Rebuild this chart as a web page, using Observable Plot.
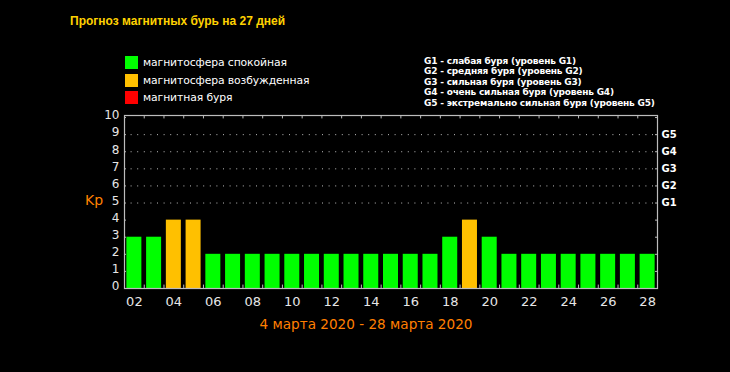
<!DOCTYPE html>
<html><head><meta charset="utf-8">
<script src="https://cdn.jsdelivr.net/npm/d3@7"></script>
<script src="https://cdn.jsdelivr.net/npm/@observablehq/plot@0.6"></script>
<style>
html,body{margin:0;padding:0;background:#000;}
#wrap{position:relative;width:730px;height:372px;background:#000;overflow:hidden;font-family:"DejaVu Sans",sans-serif;}
#wrap svg{position:absolute;left:0;top:0;}
.abs{position:absolute;white-space:nowrap;}
#title{left:70px;top:14px;font:bold 12px "Liberation Sans",Arial,sans-serif;color:#ffd200;}
.lg{position:absolute;left:125px;height:13px;display:flex;align-items:center;}
.lg span.sw{display:inline-block;width:13px;height:13px;margin-right:5px;}
.lg span.tx{font-size:10.8px;letter-spacing:-0.1px;color:#fff;}
#glegend{left:424px;top:55.5px;font-weight:bold;font-size:9px;letter-spacing:-0.2px;line-height:10.5px;color:#fff;}
#kp{left:85px;top:192px;font-size:14px;color:#ff8000;}
#caption{left:0;width:732px;text-align:center;top:316px;font-size:13.6px;color:#ff7f00;}
</style></head>
<body>
<div id="wrap"></div>
<script>
// ---- data ----
const days = [2,3,4,5,6,7,8,9,10,11,12,13,14,15,16,17,18,19,20,21,22,23,24,25,26,27,28];
const kpValues = [3,3,4,4,2,2,2,2,2,2,2,2,2,2,2,2,3,4,3,2,2,2,2,2,2,2,2];
const xTickLabels = ["02","04","06","08","10","12","14","16","18","20","22","24","26","28"];
const yTickLabels = ["0","1","2","3","4","5","6","7","8","9","10"];
const gLevels = [5,6,7,8,9];
const gLabels = ["G1","G2","G3","G4","G5"];
const statusNames = ["магнитосфера спокойная","магнитосфера возбужденная","магнитная буря"];
const statusColors = ["#00ff00","#ffc000","#ff0000"];
const gDescriptions = [
  "G1 - слабая буря (уровень G1)",
  "G2 - средняя буря (уровень G2)",
  "G3 - сильная буря (уровень G3)",
  "G4 - очень сильная буря (уровень G4)",
  "G5 - экстремально сильная буря (уровень G5)"
];
const titleText = "Прогноз магнитных бурь на 27 дней";
const captionText = "4 марта 2020 - 28 марта 2020";

// ---- build ----
const status = v => v >= 5 ? statusNames[2] : v >= 4 ? statusNames[1] : statusNames[0];
const table = days.map((d, i) => ({day: d, kp: kpValues[i], status: status(kpValues[i])}));
const boundaries = days.slice(0, -1).map(d => d + 0.5);
const yTicks = yTickLabels.map(Number);
const xMin = days[0] - 0.5, xMax = days[days.length - 1] + 0.5, yMax = 10.12;
const frameColor = "#bdbdbd";

const chart = Plot.plot({
  width: 730, height: 372,
  marginTop: 115, marginBottom: 84, marginLeft: 124, marginRight: 73,
  style: {background: "#000", color: "#e6e6e6", fontFamily: "DejaVu Sans, sans-serif", overflow: "visible"},
  x: {type: "linear", domain: [xMin, xMax]},
  y: {domain: [0, yMax]},
  color: {domain: statusNames, range: statusColors},
  marks: [
    Plot.ruleY(gLevels, {stroke: frameColor, strokeDasharray: "1,5.6", strokeWidth: 1}),
    Plot.rectY(table, {x1: d => d.day - 0.38, x2: d => d.day + 0.38, y: "kp", fill: "status"}),
    Plot.ruleX(boundaries, {x: d => d, y1: 0, y2: 0.2, stroke: frameColor}),
    Plot.ruleX(boundaries, {x: d => d, y1: yMax, y2: yMax - 0.2, stroke: frameColor}),
    Plot.ruleY(yTicks, {y: d => d, x1: xMin, x2: xMin + 0.1, stroke: frameColor}),
    Plot.ruleY(yTicks, {y: d => d, x1: xMax, x2: xMax - 0.1, stroke: frameColor}),
    Plot.frame({stroke: frameColor, strokeWidth: 1.2}),
    Plot.axisY({anchor: "left", ticks: yTicks, tickFormat: (d, i) => yTickLabels[i], tickSize: 0, tickPadding: 5, fontSize: 12, fill: "#e6e6e6", dy: -2, label: null}),
    Plot.axisY({anchor: "right", ticks: gLevels, tickFormat: (d, i) => gLabels[i], tickSize: 0, tickPadding: 4, fontSize: 10, fontWeight: "bold", fill: "#fff", label: null}),
    Plot.axisX({ticks: xTickLabels.map(Number), tickFormat: (d, i) => xTickLabels[i], tickSize: 0, tickPadding: 8, fontSize: 13, fill: "#e6e6e6", label: null})
  ]
});

const wrap = document.getElementById("wrap");
wrap.appendChild(chart);

function addDiv(id, cls, text) {
  const el = document.createElement("div");
  if (id) el.id = id;
  el.className = cls;
  el.textContent = text;
  wrap.appendChild(el);
  return el;
}
addDiv("title", "abs", titleText);
statusNames.forEach((name, i) => {
  const row = document.createElement("div");
  row.className = "lg";
  row.style.top = (56 + i * 17.5) + "px";
  const sw = document.createElement("span");
  sw.className = "sw"; sw.style.background = statusColors[i];
  const tx = document.createElement("span");
  tx.className = "tx"; tx.textContent = name;
  row.appendChild(sw); row.appendChild(tx);
  wrap.appendChild(row);
});
const gl = addDiv("glegend", "abs", "");
gl.innerHTML = gDescriptions.map(t => `<div>${t}</div>`).join("");
addDiv("kp", "abs", "Kp");
addDiv("caption", "abs", captionText);
</script>
</body></html>
